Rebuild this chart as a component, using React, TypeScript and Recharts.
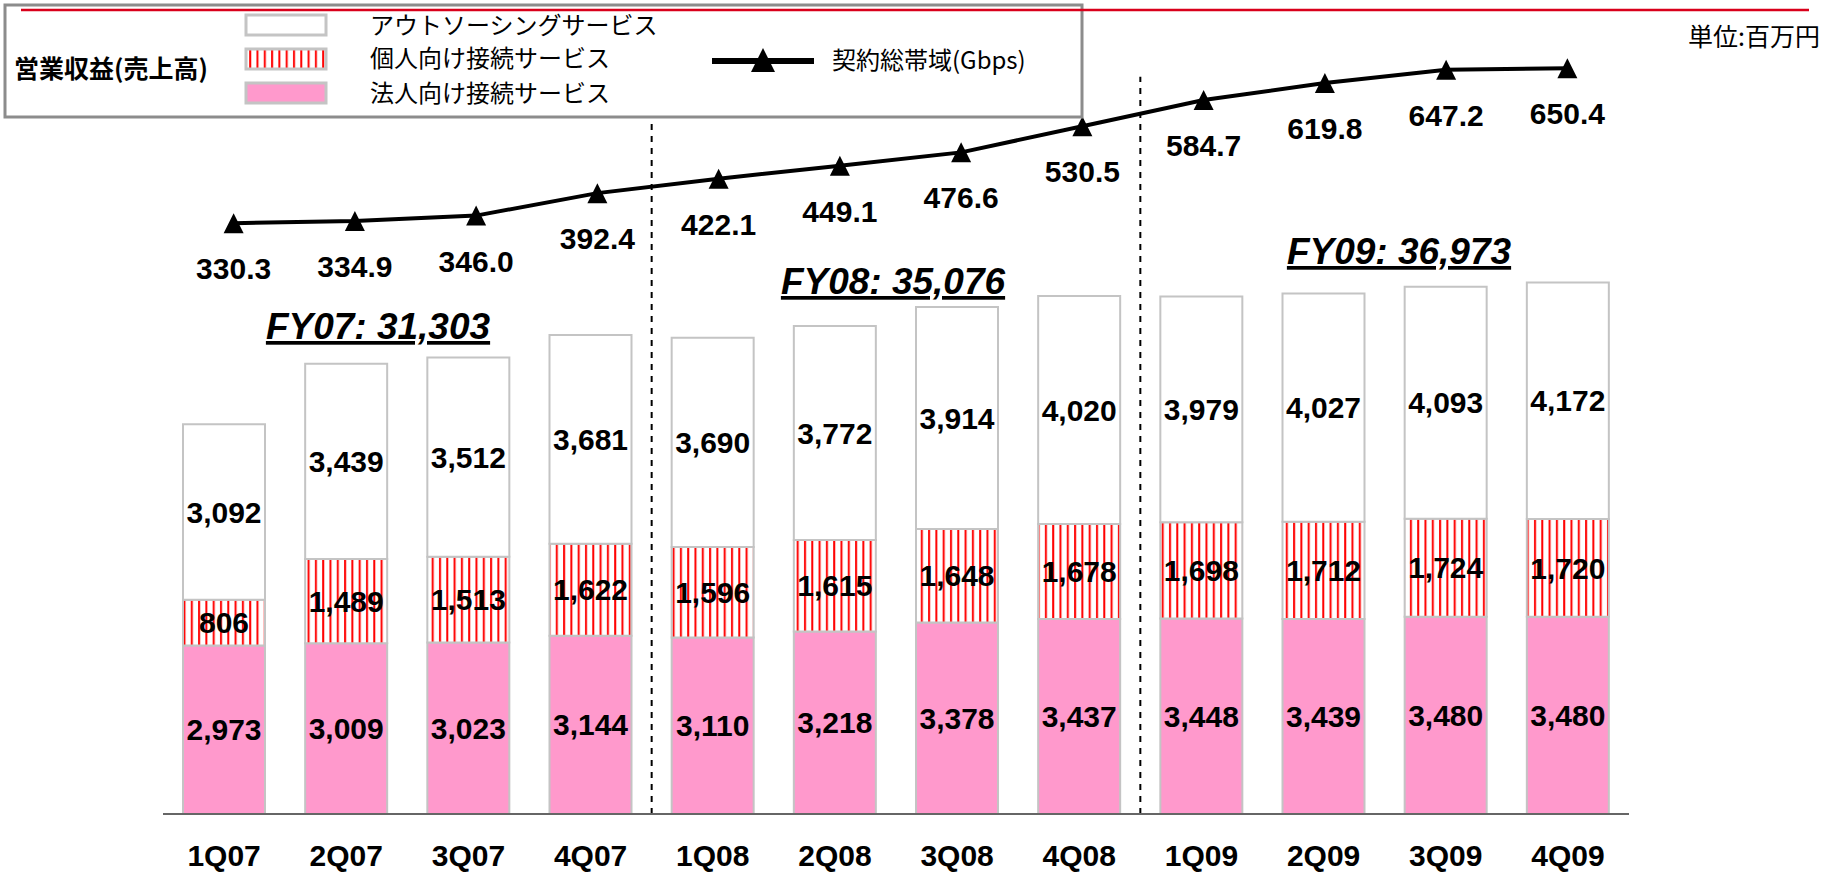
import React from "react";
import { Bar, ComposedChart, LabelList, Line, ReferenceLine, XAxis, YAxis } from "recharts";

const quarters = ["1Q07", "2Q07", "3Q07", "4Q07", "1Q08", "2Q08", "3Q08", "4Q08", "1Q09", "2Q09", "3Q09", "4Q09"];
const corporate = [2973, 3009, 3023, 3144, 3110, 3218, 3378, 3437, 3448, 3439, 3480, 3480];
const personal = [806, 1489, 1513, 1622, 1596, 1615, 1648, 1678, 1698, 1712, 1724, 1720];
const outsourcing = [3092, 3439, 3512, 3681, 3690, 3772, 3914, 4020, 3979, 4027, 4093, 4172];
const bandwidth = [330.3, 334.9, 346.0, 392.4, 422.1, 449.1, 476.6, 530.5, 584.7, 619.8, 647.2, 650.4];

const fiscalLabels = ["FY07: 31,303", "FY08: 35,076", "FY09: 36,973"];
const fyDividers = ["1Q08", "1Q09"];

const names = {
  outsourcing: "アウトソーシングサービス",
  personal: "個人向け接続サービス",
  corporate: "法人向け接続サービス",
  bandwidth: "契約総帯域(Gbps)",
};

const data = quarters.map((q, i) => ({
  q,
  corporate: corporate[i],
  personal: personal[i],
  outsourcing: outsourcing[i],
  bandwidth: bandwidth[i],
}));

const FONT = "'Liberation Sans', Arial, 'Noto Sans CJK JP', sans-serif";
const JP = "'Noto Sans CJK JP', 'Liberation Sans', sans-serif";
const PINK = "#ff99cc";
const EDGE = "#c4c4c4";

const fmt = (v: any) => Number(v).toLocaleString("en-US");

function Triangle(props: any) {
  const { cx, cy } = props;
  if (cx == null || cy == null) return null;
  return <polygon points={`${cx},${cy - 10} ${cx - 10},${cy + 10} ${cx + 10},${cy + 10}`} fill="#000" />;
}

function LineValue(p: any) {
  return (
    <text x={p.x} y={p.y + 56} textAnchor="middle" fontSize={30} fontWeight="bold" fill="#000">
      {Number(p.value).toFixed(1)}
    </text>
  );
}

function QuarterTick(p: any) {
  return (
    <text x={p.x} y={p.y + 52} textAnchor="middle" fontSize={30} fontWeight="bold" fill="#000">
      {p.payload.value}
    </text>
  );
}

function Overlay() {
  // legend box, unit note and fiscal-year totals
  const fyPos = [
    { x: 378, y: 339 },
    { x: 893, y: 294 },
    { x: 1399, y: 264 },
  ];
  return (
    <svg width={1822} height={873} style={{ position: "absolute", left: 0, top: 0, pointerEvents: "none" }}>
      <defs>
        <pattern id="legStripes" patternUnits="userSpaceOnUse" width={7.3} height={10}>
          <rect width={7.3} height={10} fill="#fff" />
          <rect x={1} width={2} height={10} fill="#ff0000" />
        </pattern>
      </defs>
      <rect x={5} y={5} width={1077} height={112} fill="#fff" stroke="#8c8c8c" strokeWidth={3} />
      <line x1={21} y1={10} x2={1809} y2={10} stroke="#d9001b" strokeWidth={2.5} />
      <text x={14} y={78} fontFamily={JP} fontSize={25} fontWeight="bold" fill="#000">
        営業収益(売上高)
      </text>
      <rect x={246} y={15} width={80} height={20} fill="#fff" stroke={EDGE} strokeWidth={3} />
      <rect x={246} y={49} width={80} height={20} fill="url(#legStripes)" stroke={EDGE} strokeWidth={3} />
      <rect x={246} y={83} width={80} height={20} fill={PINK} stroke={EDGE} strokeWidth={3} />
      <text x={370} y={34} fontFamily={JP} fontSize={24} fill="#000">{names.outsourcing}</text>
      <text x={370} y={67} fontFamily={JP} fontSize={24} fill="#000">{names.personal}</text>
      <text x={370} y={102} fontFamily={JP} fontSize={24} fill="#000">{names.corporate}</text>
      <line x1={712} y1={61} x2={814} y2={61} stroke="#000" strokeWidth={6} />
      <polygon points="763,48 751,72 775,72" fill="#000" />
      <text x={832} y={69} fontFamily={JP} fontSize={24} fill="#000">{names.bandwidth}</text>
      <text x={1820} y={46} textAnchor="end" fontFamily={JP} fontSize={25} fill="#000">
        単位:百万円
      </text>
      {fiscalLabels.map((t, i) => (
        <text
          key={t}
          x={fyPos[i].x}
          y={fyPos[i].y}
          textAnchor="middle"
          fontFamily={FONT}
          fontSize={37}
          fontWeight="bold"
          fontStyle="italic"
          textDecoration="underline"
          fill="#000"
        >
          {t}
        </text>
      ))}
    </svg>
  );
}

export default function App() {
  return (
    <div style={{ position: "absolute", left: 0, top: 0, width: 1822, height: 873, background: "#fff", fontFamily: FONT }}>
      <ComposedChart width={1822} height={873} data={data} margin={{ top: 20, right: 193, bottom: 29, left: 163 }}>
        <defs>
          <pattern id="stripes" patternUnits="userSpaceOnUse" width={7.3} height={10}>
            <rect width={7.3} height={10} fill="#fff" />
            <rect x={1} width={2} height={10} fill="#ff0000" />
          </pattern>
        </defs>
        <XAxis
          xAxisId="bars"
          dataKey="q"
          tickLine={false}
          tickSize={0}
          tickMargin={0}
          axisLine={{ stroke: "#666", strokeWidth: 2 }}
          tick={<QuarterTick />}
          interval={0}
        />
        <XAxis xAxisId="line" dataKey="q" hide padding={{ left: 10, right: 1 }} />
        <YAxis yAxisId="left" hide domain={[0, 14000]} />
        <YAxis yAxisId="right" hide orientation="right" domain={[-890, 750]} />
        {fyDividers.map((q) => (
          <ReferenceLine
            key={q}
            xAxisId="bars"
            yAxisId="left"
            segment={[{ x: q, y: 0 }, { x: q, y: 13000 }]}
            position="start"
            stroke="#000"
            strokeWidth={2}
            strokeDasharray="6 6"
            ifOverflow="visible"
          />
        ))}
        <Bar xAxisId="bars" yAxisId="left" dataKey="corporate" stackId="a" barSize={82} fill={PINK} stroke={EDGE} strokeWidth={2} isAnimationActive={false}>
          <LabelList dataKey="corporate" position="center" formatter={fmt} fill="#000" fontSize={30} fontWeight="bold" />
        </Bar>
        <Bar xAxisId="bars" yAxisId="left" dataKey="personal" stackId="a" barSize={82} fill="url(#stripes)" stroke={EDGE} strokeWidth={2} isAnimationActive={false}>
          <LabelList dataKey="personal" position="center" formatter={fmt} fill="#000" fontSize={30} fontWeight="bold" />
        </Bar>
        <Bar xAxisId="bars" yAxisId="left" dataKey="outsourcing" stackId="a" barSize={82} fill="#fff" stroke={EDGE} strokeWidth={2} isAnimationActive={false}>
          <LabelList dataKey="outsourcing" position="center" formatter={fmt} fill="#000" fontSize={30} fontWeight="bold" />
        </Bar>
        <Line
          xAxisId="line"
          yAxisId="right"
          dataKey="bandwidth"
          stroke="#000"
          strokeWidth={4}
          dot={<Triangle />}
          activeDot={false}
          isAnimationActive={false}
        >
          <LabelList dataKey="bandwidth" content={<LineValue />} />
        </Line>
      </ComposedChart>
      <Overlay />
    </div>
  );
}
